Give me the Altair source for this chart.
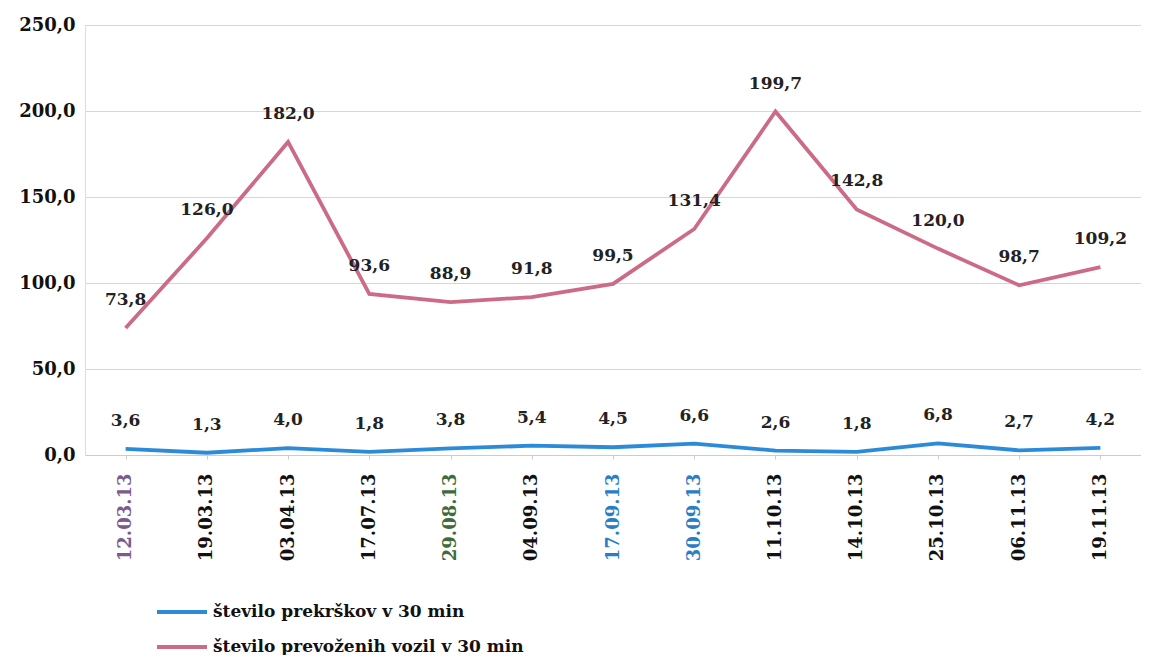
import altair as alt
import pandas as pd

dates = ["12.03.13", "19.03.13", "03.04.13", "17.07.13", "29.08.13", "04.09.13",
         "17.09.13", "30.09.13", "11.10.13", "14.10.13", "25.10.13", "06.11.13", "19.11.13"]
prekrski = [3.6, 1.3, 4.0, 1.8, 3.8, 5.4, 4.5, 6.6, 2.6, 1.8, 6.8, 2.7, 4.2]
vozila = [73.8, 126.0, 182.0, 93.6, 88.9, 91.8, 99.5, 131.4, 199.7, 142.8, 120.0, 98.7, 109.2]
s1 = "število prekrškov v 30 min"
s2 = "število prevoženih vozil v 30 min"

rows = []
for d, a, b in zip(dates, prekrski, vozila):
    rows.append({"datum": d, "serija": s1, "vrednost": a, "lbl": f"{a:.1f}".replace(".", ",")})
    rows.append({"datum": d, "serija": s2, "vrednost": b, "lbl": f"{b:.1f}".replace(".", ",")})
df = pd.DataFrame(rows)

font = "DejaVu Serif"
color = alt.Color("serija:N", scale=alt.Scale(domain=[s1, s2], range=["#2b8bd8", "#cc6b86"]),
                  legend=alt.Legend(title=None, orient="none", legendX=70, legendY=560,
                                    symbolType="stroke", symbolSize=2500, symbolStrokeWidth=4,
                                    labelFont=font, labelFontSize=17, labelFontWeight="bold",
                                    labelColor="#111", rowPadding=-10, labelOffset=4, labelLimit=500))

x = alt.X("datum:N", sort=dates, title=None,
          axis=alt.Axis(labelAngle=-90, labelFont=font, labelFontSize=18, labelFontWeight="bold",
                        labelPadding=14, tickSize=4, tickColor="#ccc", domainColor="#ccc", grid=False,
                        labelColor={"condition": [
                            {"test": "datum.value == '12.03.13'", "value": "#7b5b8f"},
                            {"test": "datum.value == '29.08.13'", "value": "#3e6b3c"},
                            {"test": "datum.value == '17.09.13' || datum.value == '30.09.13'", "value": "#2a7fc4"}],
                            "value": "#111"}))
y = alt.Y("vrednost:Q", title=None, scale=alt.Scale(domain=[0, 250], nice=False),
          axis=alt.Axis(values=[0, 50, 100, 150, 200, 250], labelFont=font, labelFontSize=18,
                        labelFontWeight="bold", labelColor="#111", ticks=False, labelPadding=10,
                        grid=True, gridColor="#d6d6d6", domainColor="#dddddd",
                        labelExpr="replace(format(datum.value, '.1f'), '.', ',')"))

base = alt.Chart(df)
lines = base.mark_line(strokeWidth=3.8).encode(x=x, y=y, color=color)
labels = base.mark_text(dy=-28, font=font, fontSize=17, fontWeight="bold", color="#222").encode(
    x=alt.X("datum:N", sort=dates), y="vrednost:Q", text="lbl:N")

chart = (lines + labels).properties(
    width=1056, height=430, padding={"left": 10, "top": 8, "right": 0, "bottom": 0}
).configure_view(stroke=None)

chart.save("out.html", embed_options={"renderer": "svg", "actions": False})
